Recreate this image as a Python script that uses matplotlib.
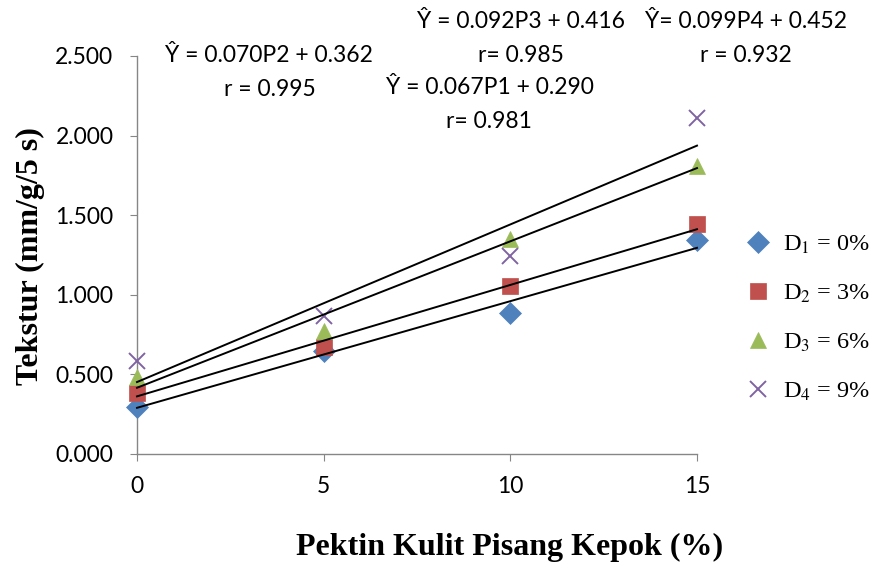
import numpy as np
import matplotlib.pyplot as plt

plt.rcParams['mathtext.fontset'] = 'stix'

# data
pektin = [0, 5, 10, 15]
d1 = [0.293, 0.648, 0.883, 1.346]
d2 = [0.381, 0.670, 1.057, 1.445]
d3 = [0.481, 0.775, 1.350, 1.811]
d4 = [0.582, 0.869, 1.246, 2.111]

labels = [r'D$_1$ = 0%', r'D$_2$ = 3%', r'D$_3$ = 6%', r'D$_4$ = 9%']
slopes = [0.067, 0.070, 0.092, 0.099]
intercepts = [0.290, 0.362, 0.416, 0.452]

eq_lines = ['Ŷ = 0.070P2 + 0.362', 'r = 0.995',
            'Ŷ = 0.067P1 + 0.290', 'r= 0.981',
            'Ŷ = 0.092P3 + 0.416', 'r= 0.985',
            'Ŷ= 0.099P4 + 0.452', 'r = 0.932']
# pixel centres of each annotation line
eq_pos = [(269, 55), (270, 89),
          (490, 88), (489, 122),
          (521, 22), (521, 56),
          (746, 22), (746, 56)]

series = [d1, d2, d3, d4]
markers = ['D', 's', '^', 'x']
colors = ['#4F81BD', '#C0504D', '#9BBB59', '#8064A2']
msizes = [11, 12, 12, 12]

W, H = 874, 568
fig = plt.figure(figsize=(W / 100, H / 100), dpi=100)
ax = fig.add_axes([137 / W, 1 - 454 / H, (697 - 137) / W, (454 - 56) / H])

for y, m, c, s, lab in zip(series, markers, colors, msizes, labels):
    ax.plot(pektin, y, linestyle='none', marker=m, color=c, markersize=s,
            markeredgewidth=1.4 if m == 'x' else 0.5, label=lab, zorder=3,
            clip_on=False)

xs = np.array([pektin[0], pektin[-1]])
for a, b in zip(slopes, intercepts):
    ax.plot(xs, a * xs + b, color='black', linewidth=1.4, zorder=4,
            clip_on=False)

ax.set_xlim(0, 15)
ax.set_ylim(0, 2.5)
ax.set_xticks(pektin)
ax.set_yticks(np.arange(0, 2.51, 0.5))
ax.set_yticklabels([f'{v:.3f}' for v in np.arange(0, 2.51, 0.5)])

for side in ['top', 'right']:
    ax.spines[side].set_visible(False)
for side in ['left', 'bottom']:
    ax.spines[side].set_color('#868686')
    ax.spines[side].set_linewidth(1.0)
ax.tick_params(axis='both', colors='#868686', direction='out', length=5,
               labelcolor='black', labelsize=16.5)
ax.tick_params(axis='y', pad=12)
ax.tick_params(axis='x', pad=11)
for t in ax.get_xticklabels() + ax.get_yticklabels():
    t.set_fontfamily('Lato')

for txt, (px, py) in zip(eq_lines, eq_pos):
    fig.text(px / W, 1 - py / H, txt, ha='center', va='center',
             fontsize=16.5, family='Lato')

fig.text(30 / W, 1 - 256 / H, 'Tekstur (mm/g/5 s)', rotation=90, ha='center',
         va='center', fontsize=23, fontweight='bold', family='Liberation Serif')
fig.text(510 / W, 1 - 547 / H, 'Pektin Kulit Pisang Kepok (%)', ha='center',
         va='center', fontsize=23, fontweight='bold', family='Liberation Serif')

fig.legend(loc='center left', bbox_to_anchor=(743 / W, 1 - 318 / H),
           frameon=False, prop={'family': 'Liberation Serif', 'size': 17.5},
           labelspacing=1.1, handletextpad=0.45, handlelength=1.2,
           borderaxespad=0, borderpad=0)

fig.savefig('out.png', dpi=100)
